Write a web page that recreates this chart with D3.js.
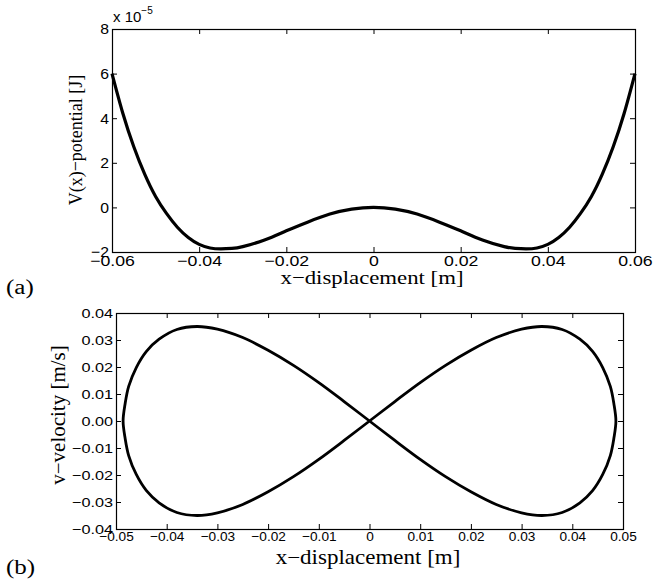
<!DOCTYPE html>
<html>
<head>
<meta charset="utf-8">
<script src="https://cdn.jsdelivr.net/npm/d3@7"></script>
<style>
  html, body { margin: 0; padding: 0; background: #fff; }
  svg { display: block; }
  .tick text { font-family: "Liberation Sans", Arial, sans-serif; fill: #000; }
  .lbl { font-family: "Liberation Serif", "Times New Roman", serif; fill: #000; }
</style>
</head>
<body>
<script>
// ---------- Data ----------
// (a) potential V(x), x in m, V in units of 1e-5 J
const potX = [-0.06, -0.0575, -0.055, -0.0525, -0.05, -0.0475, -0.045, -0.0425, -0.04, -0.0375, -0.035, -0.0325, -0.03, -0.025, -0.02, -0.015, -0.01, -0.005, 0,
              0.005, 0.01, 0.015, 0.02, 0.025, 0.03, 0.0325, 0.035, 0.0375, 0.04, 0.0425, 0.045, 0.0475, 0.05, 0.0525, 0.055, 0.0575, 0.06];
const potV = [6.00, 4.21, 2.72, 1.49, 0.49, -0.27, -0.89, -1.35, -1.66, -1.82, -1.86, -1.84, -1.76, -1.46, -1.05, -0.65, -0.30, -0.08, 0,
              -0.08, -0.30, -0.65, -1.05, -1.46, -1.76, -1.84, -1.86, -1.82, -1.66, -1.35, -0.89, -0.27, 0.49, 1.49, 2.72, 4.21, 6.00];
const potXTicks = [-0.06, -0.04, -0.02, 0, 0.02, 0.04, 0.06];
const potXTickLabels = ["\u22120.06", "\u22120.04", "\u22120.02", "0", "0.02", "0.04", "0.06"];
const potYTicks = [-2, 0, 2, 4, 6, 8];
const potYTickLabels = ["\u22122", "0", "2", "4", "6", "8"];

// (b) phase portrait (closed figure-eight orbit), x in m, v in m/s
// order: upper-right lobe, lower-right lobe, upper-left lobe, lower-left lobe
const phaseX = [0, 0.005, 0.010, 0.015, 0.020, 0.025, 0.030, 0.034, 0.038, 0.0415, 0.044, 0.046, 0.0475, 0.0482, 0.0486,
                0.0482, 0.0475, 0.046, 0.044, 0.0415, 0.038, 0.034, 0.030, 0.025, 0.020, 0.015, 0.010, 0.005, 0,
                -0.005, -0.010, -0.015, -0.020, -0.025, -0.030, -0.034, -0.038, -0.0415, -0.044, -0.046, -0.0475, -0.0482, -0.0486,
                -0.0482, -0.0475, -0.046, -0.044, -0.0415, -0.038, -0.034, -0.030, -0.025, -0.020, -0.015, -0.010, -0.005];
const phaseV = [0, 0.0072, 0.0142, 0.0206, 0.0262, 0.0309, 0.0340, 0.0350, 0.0339, 0.0303, 0.0258, 0.0198, 0.0128, 0.0064, 0,
                -0.0064, -0.0128, -0.0198, -0.0258, -0.0303, -0.0339, -0.0350, -0.0340, -0.0309, -0.0262, -0.0206, -0.0142, -0.0072, 0,
                0.0072, 0.0142, 0.0206, 0.0262, 0.0309, 0.0340, 0.0350, 0.0339, 0.0303, 0.0258, 0.0198, 0.0128, 0.0064, 0,
                -0.0064, -0.0128, -0.0198, -0.0258, -0.0303, -0.0339, -0.0350, -0.0340, -0.0309, -0.0262, -0.0206, -0.0142, -0.0072];
const phXTicks = [-0.05, -0.04, -0.03, -0.02, -0.01, 0, 0.01, 0.02, 0.03, 0.04, 0.05];
const phXTickLabels = ["\u22120.05", "\u22120.04", "\u22120.03", "\u22120.02", "\u22120.01", "0", "0.01", "0.02", "0.03", "0.04", "0.05"];
const phYTicks = [-0.04, -0.03, -0.02, -0.01, 0, 0.01, 0.02, 0.03, 0.04];
const phYTickLabels = ["\u22120.04", "\u22120.03", "\u22120.02", "\u22120.01", "0.00", "0.01", "0.02", "0.03", "0.04"];

// ---------- Drawing ----------
const W = 656, H = 579;
const svg = d3.select("body").append("svg").attr("width", W).attr("height", H);

function panel(cfg) {
  const x = d3.scaleLinear().domain(cfg.xDomain).range([cfg.left, cfg.right]);
  const y = d3.scaleLinear().domain(cfg.yDomain).range([cfg.bottom, cfg.top]);
  const g = svg.append("g");
  const tk = 5;
  const fmt = (ticks, labels) => d => labels[ticks.indexOf(d)];

  const bx = g.append("g").attr("transform", `translate(0,${cfg.bottom})`)
    .call(d3.axisBottom(x).tickValues(cfg.xTicks).tickFormat(fmt(cfg.xTicks, cfg.xLabels)).tickSizeInner(-tk).tickSizeOuter(0).tickPadding(cfg.xPad))
    .call(a => a.select(".domain").remove());
  bx.selectAll(".tick text").style("font-size", cfg.xFont + "px")
    .attr("transform", `scale(${cfg.xStretch},1)`);

  g.append("g").attr("transform", `translate(0,${cfg.top})`)
    .call(d3.axisTop(x).tickValues(cfg.xTicks).tickFormat("").tickSizeInner(-tk).tickSizeOuter(0))
    .call(a => a.select(".domain").remove());

  const ly = g.append("g").attr("transform", `translate(${cfg.left},0)`)
    .call(d3.axisLeft(y).tickValues(cfg.yTicks).tickFormat(fmt(cfg.yTicks, cfg.yLabels)).tickSizeInner(-tk).tickSizeOuter(0).tickPadding(cfg.yPad))
    .call(a => a.select(".domain").remove());
  ly.selectAll(".tick text").style("font-size", cfg.yFont + "px")
    .attr("transform", `scale(${cfg.yStretch},1)`)
    .attr("x", -cfg.yPad / cfg.yStretch);

  g.append("g").attr("transform", `translate(${cfg.right},0)`)
    .call(d3.axisRight(y).tickValues(cfg.yTicks).tickFormat("").tickSizeInner(-tk).tickSizeOuter(0))
    .call(a => a.select(".domain").remove());
  g.selectAll(".tick line").attr("stroke", "#000").attr("stroke-width", 1);

  g.append("rect")
    .attr("x", cfg.left + 0.5).attr("y", cfg.top + 0.5)
    .attr("width", cfg.right - cfg.left).attr("height", cfg.bottom - cfg.top)
    .attr("fill", "none").attr("stroke", "#000").attr("stroke-width", 1.2);

  return { x, y, g };
}

function label(txt, x, y, size, sx, anchor) {
  svg.append("text").attr("class", "lbl")
    .attr("transform", `translate(${x},${y}) scale(${sx},1)`)
    .attr("text-anchor", anchor).style("font-size", size + "px").text(txt);
}
function vlabel(txt, x, y, size, sy) {
  svg.append("text").attr("class", "lbl")
    .attr("transform", `translate(${x},${y}) rotate(-90) scale(1,${sy})`)
    .attr("text-anchor", "middle").style("font-size", size + "px").text(txt);
}

// (a) potential
const pa = panel({
  left: 112, right: 635, top: 29, bottom: 252,
  xDomain: [-0.06, 0.06], yDomain: [-2, 8],
  xTicks: potXTicks, xLabels: potXTickLabels, yTicks: potYTicks, yLabels: potYTickLabels,
  xPad: 3, yPad: 3, xFont: 15, xStretch: 1.18, yFont: 15, yStretch: 1.05
});
pa.g.append("path")
  .datum(potX.map((d, i) => [d, potV[i]]))
  .attr("fill", "none").attr("stroke", "#000").attr("stroke-width", 3.2)
  .attr("stroke-linejoin", "round")
  .attr("d", d3.line().x(d => pa.x(d[0])).y(d => pa.y(d[1])).curve(d3.curveNatural));

// exponent label
const ex = svg.append("text").attr("x", 113).attr("y", 22)
  .style("font-family", "'Liberation Sans', Arial, sans-serif").style("font-size", "15px");
ex.append("tspan").text("x 10");
ex.append("tspan").attr("dy", -8).style("font-size", "10px").text("\u22125");

label("x\u2212displacement [m]", 372, 284, 19, 1.2, "middle");
vlabel("V(x)\u2212potential [J]", 82, 140, 18, 1.1);
label("(a)", 6, 294, 20, 1.25, "start");

// (b) phase portrait
const pb = panel({
  left: 116, right: 623, top: 313, bottom: 529,
  xDomain: [-0.05, 0.05], yDomain: [-0.04, 0.04],
  xTicks: phXTicks, xLabels: phXTickLabels, yTicks: phYTicks, yLabels: phYTickLabels,
  xPad: 3, yPad: 3, xFont: 13, xStretch: 1.05, yFont: 13, yStretch: 1.25
});
pb.g.append("path")
  .datum(phaseX.map((d, i) => [d, phaseV[i]]))
  .attr("fill", "none").attr("stroke", "#000").attr("stroke-width", 2.8)
  .attr("stroke-linejoin", "round")
  .attr("d", d3.line().x(d => pb.x(d[0])).y(d => pb.y(d[1])).curve(d3.curveCatmullRomClosed.alpha(0.5)));

label("x\u2212displacement [m]", 368, 564, 20, 1.15, "middle");
vlabel("v\u2212velocity [m/s]", 65, 415, 21, 0.95);
label("(b)", 6, 574, 20, 1.25, "start");
</script>
</body>
</html>
